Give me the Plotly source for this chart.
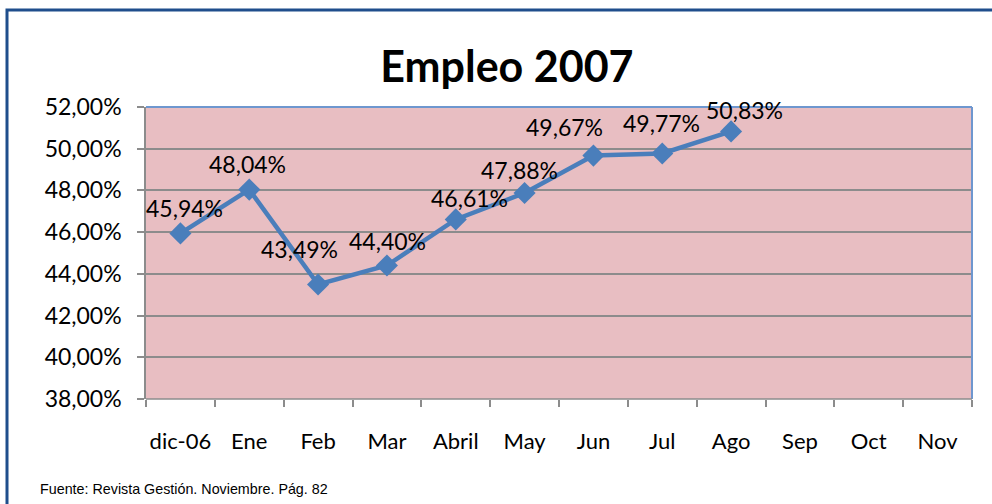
import plotly.graph_objects as go

categories = ["dic-06", "Ene", "Feb", "Mar", "Abril", "May", "Jun", "Jul", "Ago", "Sep", "Oct", "Nov"]
values = [45.94, 48.04, 43.49, 44.40, 46.61, 47.88, 49.67, 49.77, 50.83]
y_ticks = [38, 40, 42, 44, 46, 48, 50, 52]
title_text = "Empleo 2007"
source_text = "Fuente: Revista Gestión. Noviembre. Pág. 82"

def pct(v):
    return f"{v:.2f}".replace(".", ",") + "%"

# label offsets in pixels (style only)
label_dx = [4, -2, -19, 1, 14, -5, -29, -1, 13]
label_dy = [25, 26, 35, 25, 21, 23, 29, 31, 21]

fig = go.Figure()
fig.add_trace(go.Scatter(
    x=categories[:len(values)], y=values, mode="lines+markers",
    line=dict(color="#4A7EBB", width=4.5),
    marker=dict(symbol="diamond", size=17, color="#4A7EBB"),
    hoverinfo="skip", showlegend=False,
))
fig.add_trace(go.Scatter(x=categories, y=[None]*len(categories), mode="markers",
                         showlegend=False, hoverinfo="skip"))

for c, v, dx, dy in zip(categories, values, label_dx, label_dy):
    fig.add_annotation(x=c, y=v, text=pct(v),
                       showarrow=False, xshift=dx, yshift=dy,
                       font=dict(family="Lato", size=23, color="#000000"))

L, R, T, B = 146, 20, 107, 105
W, H = 992, 504
pw, ph = W - L - R, H - T - B

fig.update_layout(
    width=W, height=H,
    margin=dict(l=L, r=R, t=T, b=B),
    paper_bgcolor="white", plot_bgcolor="#E8BEC2",
    title=dict(text=title_text, x=0.511, xanchor="center", y=1 - 67 / H, yanchor="middle",
               font=dict(family="Lato", size=43, color="#000000", weight="bold")),
    xaxis=dict(type="category", categoryorder="array", categoryarray=categories,
               range=[-0.5, len(categories) - 0.5], tickangle=0,
               tickson="boundaries", ticks="outside", ticklen=7, tickcolor="#8C8C8C",
               tickwidth=1.5, showgrid=False, showline=False,
               tickfont=dict(family="Lato", size=22, color="#000000"),
               ticklabelstandoff=27, fixedrange=True),
    yaxis=dict(range=[38, 52], tickvals=y_ticks, ticktext=[pct(t) for t in y_ticks],
               ticks="outside", ticklen=7, tickcolor="#8C8C8C", tickwidth=1.5,
               showgrid=True, gridcolor="#8C8C8C", gridwidth=1.5,
               showline=True, linecolor="#8C8C8C", linewidth=1.5,
               zeroline=False, ticklabelstandoff=11,
               tickfont=dict(family="Lato", size=23, color="#000000"), fixedrange=True),
)

fig.add_shape(type="line", xref="paper", yref="paper", x0=0, x1=1, y0=1, y1=1,
              line=dict(color="#6E97CF", width=2))
fig.add_shape(type="line", xref="paper", yref="paper", x0=1, x1=1, y0=0, y1=1,
              line=dict(color="#6E97CF", width=2))
fig.add_shape(type="line", xref="paper", yref="paper", x0=0, x1=1, y0=0, y1=0,
              line=dict(color="#8C8C8C", width=1.5))

ox0 = (7 - L) / pw
oy1 = (H - B - 10) / ph
fig.add_shape(type="rect", xref="paper", yref="paper", x0=ox0, x1=(W + 10 - L) / pw,
              y0=-(B + 10) / ph, y1=oy1, line=dict(color="#1F4E8C", width=3),
              fillcolor="rgba(0,0,0,0)", layer="below")

fig.add_annotation(xref="paper", yref="paper", x=(38 - L) / pw, y=-(489 - (H - B)) / ph,
                   xanchor="left", yanchor="middle", showarrow=False, text=source_text,
                   font=dict(family="Liberation Sans", size=14.3, color="#000000"))

fig.write_html("out.html", config={"displayModeBar": False},
               post_script="document.body.style.margin='0';document.body.style.overflow='hidden';")
